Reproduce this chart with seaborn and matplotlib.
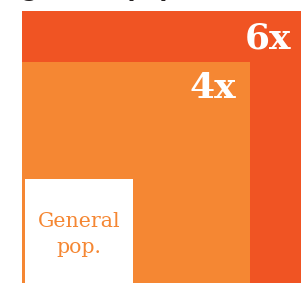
import numpy as np
import matplotlib
matplotlib.use("Agg")
import matplotlib.pyplot as plt
import seaborn as sns

# data
labels = ["6x", "4x", "General\npop."]
multiples = [6, 4, 1]
title_tail = "general population"

colors = ["#F05423", "#F58733", "#FFFFFF"]

sns.set_theme(style="white")
plt.rcParams['font.family'] = ['DejaVu Serif', 'DejaVu Sans']

W, H = 305, 283
fig = plt.figure(figsize=(W / 100, H / 100), dpi=100)
ax = fig.add_axes([0, 0, 1, 1])

S = 279 / np.sqrt(6)      # px per unit of side
x0, ybase = 22, 290       # px position of common bottom-left corner
ax.set_xlim(-x0 / S, (W - x0) / S)
ax.set_ylim((ybase - H) / S, ybase / S)
ax.axis("off")

sides = [np.sqrt(m) for m in multiples]
PX = 0.72  # points per pixel
inset = 3 / S

for i, (side, lab, col) in enumerate(zip(sides, labels, colors)):
    if i < 2:
        ax.bar(0, side, width=side, align="edge", color=col, linewidth=0, zorder=i)
        off = [(-10, -37), (-14, -36)][i]
        ax.annotate(lab, xy=(side, side), xytext=(off[0] * PX, off[1] * PX),
                    textcoords="offset points", ha="right", va="baseline",
                    color="white", fontsize=36 * PX, fontweight="bold",
                    family="DejaVu Serif", zorder=5)
    else:
        ax.bar(inset, side - inset, width=side - 2 * inset, align="edge",
               color=col, linewidth=0, zorder=i)
        ax.annotate(lab, xy=(side / 2, side), xytext=(0, -77 * PX),
                    textcoords="offset points", ha="center", va="baseline",
                    color="#F58733", fontsize=20.5 * PX, linespacing=1.45,
                    family="DejaVu Serif", zorder=5)

fig.text(22 / W, 1 + 4 / H, title_tail, fontsize=22.8 * PX, va="baseline",
         ha="left", color="#231F20", family="DejaVu Sans", fontweight="bold")

fig.savefig("out.png", dpi=100)
